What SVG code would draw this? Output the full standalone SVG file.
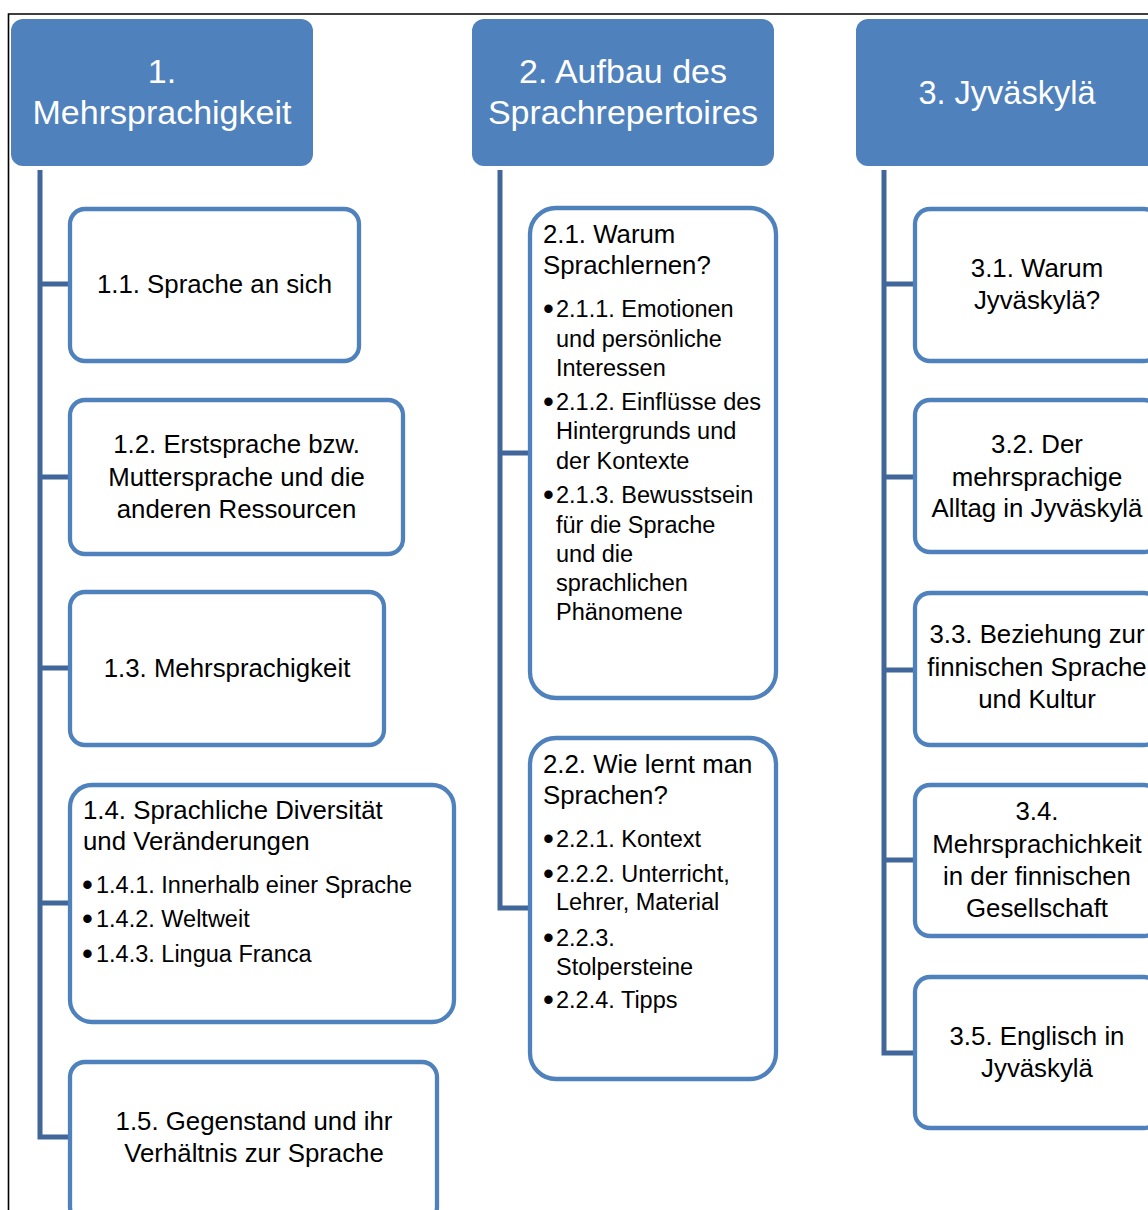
<svg xmlns="http://www.w3.org/2000/svg" width="1148" height="1210" viewBox="0 0 1148 1210">
<style>
.hdr{fill:#4F81BD;}
.ht{fill:#FFFFFF;font-family:"Liberation Sans",Arial,sans-serif;font-size:34px;text-anchor:middle;}
.box{fill:#FFFFFF;stroke:#4F81BD;stroke-width:4.3;}
.t{fill:#000000;font-family:"Liberation Sans",Arial,sans-serif;font-size:25.8px;}
.c{text-anchor:middle;}
.b{fill:#000000;font-family:"Liberation Sans",Arial,sans-serif;font-size:23.5px;}
.d{fill:#000000;font-family:"Liberation Sans",Arial,sans-serif;font-size:31px;}
.con{fill:none;stroke:#41679A;stroke-width:5;}
</style>
<rect x="0" y="0" width="1148" height="1210" fill="#FFFFFF"/>
<path d="M8.5,1210 V14 H1148" fill="none" stroke="#000000" stroke-width="1.6"/>

<g id="connectors">
  <path class="con" d="M40,170 V1137 H70 M40,284 H70 M40,477 H70 M40,668 H70 M40,903 H70"/>
  <path class="con" d="M500,170 V908 H530 M500,453 H530"/>
  <path class="con" d="M884,170 V1053 H915 M884,284 H915 M884,477 H915 M884,670 H915 M884,860 H915"/>
</g>

<g id="h1">
  <rect class="hdr" x="11" y="19" width="302" height="147" rx="12"/>
  <text class="ht" x="162" y="83">1.</text>
  <text class="ht" x="162" y="124">Mehrsprachigkeit</text>
</g>
<g id="h2">
  <rect class="hdr" x="472" y="19" width="302" height="147" rx="12"/>
  <text class="ht" x="623" y="83">2. Aufbau des</text>
  <text class="ht" x="623" y="124">Sprachrepertoires</text>
</g>
<g id="h3">
  <rect class="hdr" x="856" y="19" width="320" height="147" rx="12"/>
  <text class="ht" x="1007" y="104" style="font-size:32.5px">3. Jyväskylä</text>
</g>

<g id="n11">
  <rect class="box" x="70" y="209" width="289" height="152" rx="15"/>
  <text class="t c" x="214.5" y="293">1.1. Sprache an sich</text>
</g>
<g id="n12">
  <rect class="box" x="70" y="400" width="333" height="154" rx="15"/>
  <text class="t c" x="236.5" y="453">1.2. Erstsprache bzw.</text>
  <text class="t c" x="236.5" y="486">Muttersprache und die</text>
  <text class="t c" x="236.5" y="518">anderen Ressourcen</text>
</g>
<g id="n13">
  <rect class="box" x="70" y="592" width="314" height="153" rx="15"/>
  <text class="t c" x="227" y="677">1.3. Mehrsprachigkeit</text>
</g>
<g id="n14">
  <rect class="box" x="70" y="785" width="384" height="237" rx="22"/>
  <text class="t" x="83" y="819">1.4. Sprachliche Diversität</text>
  <text class="t" x="83" y="850">und Veränderungen</text>
  <text class="d" x="82" y="895">•</text><text class="b" x="96" y="893">1.4.1. Innerhalb einer Sprache</text>
  <text class="d" x="82" y="929">•</text><text class="b" x="96" y="927">1.4.2. Weltweit</text>
  <text class="d" x="82" y="964">•</text><text class="b" x="96" y="962">1.4.3. Lingua Franca</text>
</g>
<g id="n15">
  <rect class="box" x="70" y="1062" width="367" height="160" rx="15"/>
  <text class="t c" x="254" y="1130">1.5. Gegenstand und ihr</text>
  <text class="t c" x="254" y="1162">Verhältnis zur Sprache</text>
</g>

<g id="n21">
  <rect class="box" x="530" y="208" width="246" height="490" rx="26"/>
  <text class="t" x="543" y="243">2.1. Warum</text>
  <text class="t" x="543" y="274">Sprachlernen?</text>
  <text class="d" x="543" y="319">•</text>
  <text class="b" x="556" y="317">2.1.1. Emotionen</text>
  <text class="b" x="556" y="347">und persönliche</text>
  <text class="b" x="556" y="376">Interessen</text>
  <text class="d" x="543" y="412">•</text>
  <text class="b" x="556" y="410">2.1.2. Einflüsse des</text>
  <text class="b" x="556" y="439">Hintergrunds und</text>
  <text class="b" x="556" y="469">der Kontexte</text>
  <text class="d" x="543" y="505">•</text>
  <text class="b" x="556" y="503">2.1.3. Bewusstsein</text>
  <text class="b" x="556" y="533">für die Sprache</text>
  <text class="b" x="556" y="562">und die</text>
  <text class="b" x="556" y="591">sprachlichen</text>
  <text class="b" x="556" y="620">Phänomene</text>
</g>
<g id="n22">
  <rect class="box" x="530" y="738" width="246" height="341" rx="26"/>
  <text class="t" x="543" y="773">2.2. Wie lernt man</text>
  <text class="t" x="543" y="804">Sprachen?</text>
  <text class="d" x="543" y="849">•</text>
  <text class="b" x="556" y="847">2.2.1. Kontext</text>
  <text class="d" x="543" y="884">•</text>
  <text class="b" x="556" y="882">2.2.2. Unterricht,</text>
  <text class="b" x="556" y="910">Lehrer, Material</text>
  <text class="d" x="543" y="948">•</text>
  <text class="b" x="556" y="946">2.2.3.</text>
  <text class="b" x="556" y="975">Stolpersteine</text>
  <text class="d" x="543" y="1010">•</text>
  <text class="b" x="556" y="1008">2.2.4. Tipps</text>
</g>

<g id="n31">
  <rect class="box" x="915" y="209" width="244" height="152" rx="15"/>
  <text class="t c" x="1037" y="277">3.1. Warum</text>
  <text class="t c" x="1037" y="309">Jyväskylä?</text>
</g>
<g id="n32">
  <rect class="box" x="915" y="400" width="244" height="152" rx="15"/>
  <text class="t c" x="1037" y="453">3.2. Der</text>
  <text class="t c" x="1037" y="486">mehrsprachige</text>
  <text class="t c" x="1037" y="517">Alltag in Jyväskylä</text>
</g>
<g id="n33">
  <rect class="box" x="915" y="593" width="244" height="152" rx="15"/>
  <text class="t c" x="1037" y="643">3.3. Beziehung zur</text>
  <text class="t c" x="1037" y="676">finnischen Sprache</text>
  <text class="t c" x="1037" y="708">und Kultur</text>
</g>
<g id="n34">
  <rect class="box" x="915" y="785" width="244" height="151" rx="15"/>
  <text class="t c" x="1037" y="820">3.4.</text>
  <text class="t c" x="1037" y="853">Mehrsprachichkeit</text>
  <text class="t c" x="1037" y="885">in der finnischen</text>
  <text class="t c" x="1037" y="917">Gesellschaft</text>
</g>
<g id="n35">
  <rect class="box" x="915" y="977" width="244" height="151" rx="15"/>
  <text class="t c" x="1037" y="1045">3.5. Englisch in</text>
  <text class="t c" x="1037" y="1077">Jyväskylä</text>
</g>
</svg>
